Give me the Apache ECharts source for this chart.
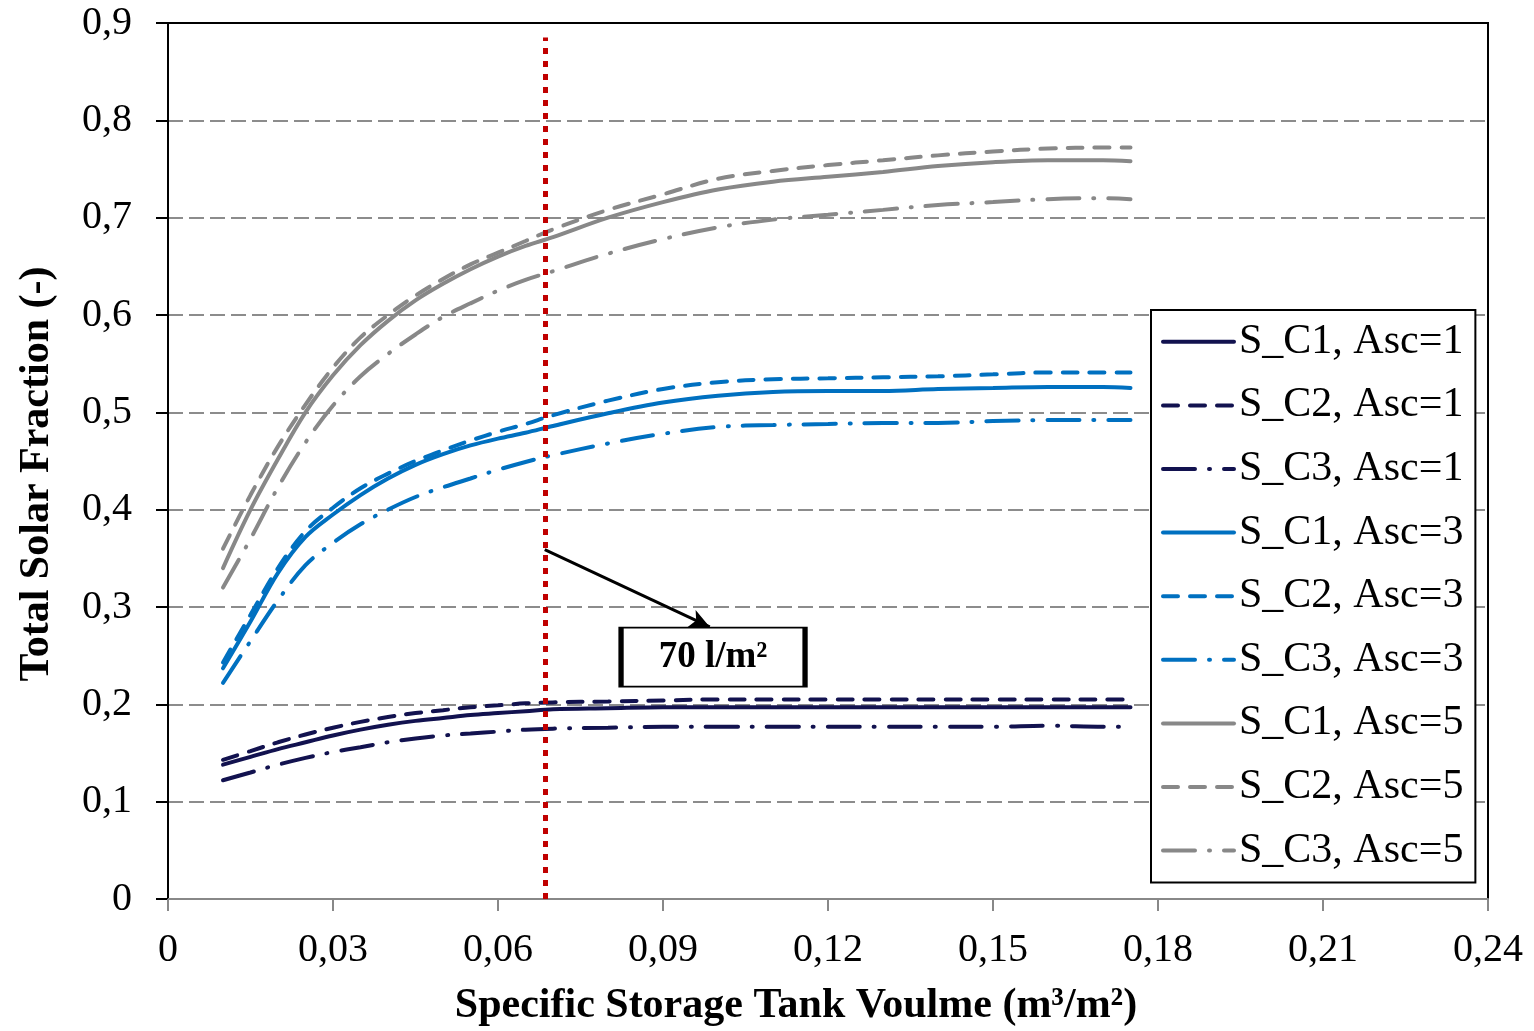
<!DOCTYPE html>
<html>
<head>
<meta charset="utf-8">
<title>Total Solar Fraction</title>
<script src="https://cdn.jsdelivr.net/npm/echarts@6/dist/echarts.min.js"></script>
<style>
    html, body { margin: 0; padding: 0; background: #fff; }
    #chart { width: 1534px; height: 1031px; }
</style>
</head>
<body>
<div id="chart"></div>
<script>
// tank volume (m3/m2)
const volumes = [0.01, 0.015, 0.02, 0.025, 0.03, 0.035, 0.04, 0.045, 0.05, 0.055, 0.06, 0.065, 0.07, 0.08, 0.09, 0.1, 0.11, 0.12, 0.13, 0.14, 0.15, 0.16, 0.17, 0.175];

// Asc = 1
const c1Asc1 = [0.138, 0.146, 0.154, 0.161, 0.168, 0.174, 0.179, 0.183, 0.186, 0.189, 0.191, 0.193, 0.195, 0.196, 0.197, 0.197, 0.197, 0.197, 0.197, 0.197, 0.197, 0.197, 0.197, 0.197];
const c2Asc1 = [0.143, 0.152, 0.161, 0.169, 0.176, 0.182, 0.187, 0.191, 0.194, 0.197, 0.199, 0.201, 0.202, 0.203, 0.204, 0.205, 0.205, 0.205, 0.205, 0.205, 0.205, 0.205, 0.205, 0.205];
const c3Asc1 = [0.122, 0.130, 0.138, 0.145, 0.151, 0.156, 0.161, 0.165, 0.168, 0.170, 0.172, 0.174, 0.175, 0.176, 0.177, 0.177, 0.177, 0.177, 0.177, 0.177, 0.177, 0.178, 0.177, 0.177];
// Asc = 3
const c1Asc3 = [0.237, 0.285, 0.335, 0.372, 0.395, 0.415, 0.432, 0.446, 0.457, 0.466, 0.473, 0.479, 0.486, 0.499, 0.510, 0.517, 0.521, 0.522, 0.522, 0.524, 0.525, 0.526, 0.526, 0.525];
const c2Asc3 = [0.243, 0.292, 0.340, 0.378, 0.402, 0.422, 0.437, 0.450, 0.461, 0.471, 0.480, 0.488, 0.497, 0.512, 0.524, 0.531, 0.534, 0.535, 0.536, 0.537, 0.539, 0.541, 0.541, 0.541];
const c3Asc3 = [0.222, 0.265, 0.307, 0.343, 0.366, 0.385, 0.400, 0.413, 0.423, 0.432, 0.441, 0.449, 0.456, 0.468, 0.478, 0.485, 0.487, 0.488, 0.489, 0.489, 0.491, 0.492, 0.492, 0.492];
// Asc = 5
const c1Asc5 = [0.340, 0.400, 0.452, 0.500, 0.538, 0.569, 0.594, 0.615, 0.632, 0.647, 0.660, 0.671, 0.680, 0.700, 0.716, 0.729, 0.737, 0.742, 0.747, 0.753, 0.757, 0.759, 0.759, 0.758];
const c2Asc5 = [0.360, 0.415, 0.465, 0.508, 0.546, 0.577, 0.600, 0.620, 0.637, 0.652, 0.664, 0.676, 0.688, 0.708, 0.724, 0.740, 0.748, 0.754, 0.759, 0.764, 0.768, 0.771, 0.772, 0.772];
const c3Asc5 = [0.320, 0.370, 0.423, 0.469, 0.507, 0.537, 0.560, 0.580, 0.598, 0.612, 0.625, 0.636, 0.645, 0.663, 0.678, 0.690, 0.698, 0.703, 0.708, 0.713, 0.716, 0.719, 0.720, 0.719];

// the 70 l/m2 marker
const markerVolume = 0.0685;
const markerLabel = '70 l/m²';

const serif = "'Liberation Serif', 'Times New Roman', serif";
const navy = '#12124f';
const blue = '#0070c0';
const gray = '#888888';

const dashStyle = [15, 12];
const dashDotStyle = [32, 14, 1, 14];

const pair = (vals) => volumes.map((v, i) => [v, vals[i]]);

// comma decimals like the original
const fmt = (digits) => (value) => {
    if (Math.abs(value) < 1e-9) return '0';
    return value.toFixed(digits).replace('.', ',');
};

const makeLine = (name, vals, color, dash) => ({
    name: name,
    type: 'line',
    data: pair(vals),
    smooth: 0.35,
    showSymbol: false,
    symbol: 'none',
    lineStyle: {
        color: color,
        width: 4,
        type: dash,
        cap: 'round'
    },
    itemStyle: { color: color },
    z: 3
});

const series = [
    makeLine('S_C1, Asc=1', c1Asc1, navy, 'solid'),
    makeLine('S_C2, Asc=1', c2Asc1, navy, dashStyle),
    makeLine('S_C3, Asc=1', c3Asc1, navy, dashDotStyle),
    makeLine('S_C1, Asc=3', c1Asc3, blue, 'solid'),
    makeLine('S_C2, Asc=3', c2Asc3, blue, dashStyle),
    makeLine('S_C3, Asc=3', c3Asc3, blue, dashDotStyle),
    makeLine('S_C1, Asc=5', c1Asc5, gray, 'solid'),
    makeLine('S_C2, Asc=5', c2Asc5, gray, dashStyle),
    makeLine('S_C3, Asc=5', c3Asc5, gray, dashDotStyle)
];

// red dotted marker + arrow + label box
series[0].markLine = {
    silent: true,
    animation: false,
    label: { show: false },
    data: [
        [
            { coord: [markerVolume, 0], symbol: 'none', lineStyle: { color: '#c00000', width: 5, type: [6, 7] } },
            { coord: [markerVolume, 0.885], symbol: 'none' }
        ],
        [
            { coord: [markerVolume, 0.359], symbol: 'none', lineStyle: { color: '#000', width: 3, type: 'solid' } },
            { coord: [0.0985, 0.2795], symbol: 'arrow', symbolSize: [14, 20] }
        ]
    ]
};
series[0].markPoint = {
    silent: true,
    animation: false,
    symbol: 'rect',
    symbolSize: [184, 59],
    itemStyle: { color: '#fff', borderColor: '#000', borderWidth: 3 },
    label: {
        show: true,
        position: 'inside',
        formatter: markerLabel,
        color: '#000',
        fontFamily: serif,
        fontWeight: 'bold',
        fontSize: 37
    },
    data: [{ coord: [0.0991, 0.2486] }]
};

const chart = echarts.init(document.getElementById('chart'), null, { renderer: 'canvas' });

chart.setOption({
    backgroundColor: '#fff',
    animation: false,
    textStyle: { fontFamily: serif },
    grid: {
        left: 168,
        right: 46,
        top: 23,
        bottom: 132,
        show: true,
        borderColor: '#000',
        borderWidth: 2,
        containLabel: false,
        outerBoundsMode: 'none'
    },
    legend: {
        orient: 'vertical',
        left: 1151,
        top: 310,
        padding: [0, 12, 0, 10],
        itemGap: 0,
        itemWidth: 71,
        itemHeight: 14,
        backgroundColor: '#fff',
        borderColor: '#000',
        borderWidth: 2,
        itemStyle: { color: 'rgba(0,0,0,0)', borderWidth: 0 },
        lineStyle: { width: 4 },
        textStyle: {
            fontFamily: serif,
            fontSize: 42,
            color: '#000',
            lineHeight: 63.6
        },
        data: series.map(s => s.name)
    },
    xAxis: [
        {
            type: 'value',
            min: 0,
            max: 0.24,
            interval: 0.03,
            name: 'Specific Storage Tank Voulme (m³/m²)',
            nameLocation: 'middle',
            nameGap: 86,
            nameTextStyle: {
                fontFamily: serif,
                fontWeight: 'bold',
                fontSize: 42,
                color: '#000',
                padding: [0, 64, 0, 0]
            },
            axisLine: { show: true, lineStyle: { color: '#888', width: 2 } },
            axisTick: { show: true, inside: false, length: 12, lineStyle: { color: '#888', width: 2 } },
            axisLabel: {
                margin: 31,
                fontFamily: serif,
                fontSize: 40,
                color: '#000',
                formatter: fmt(2)
            },
            splitLine: { show: false }
        },
        {
            // solid top frame drawn over the 0,9 grid line
            type: 'value',
            position: 'top',
            min: 0,
            max: 0.24,
            interval: 0.03,
            z: 10,
            axisLine: { show: true, lineStyle: { color: '#000', width: 2 } },
            axisTick: { show: false },
            axisLabel: { show: false },
            splitLine: { show: false }
        }
    ],
    yAxis: {
        type: 'value',
        min: 0,
        max: 0.9,
        interval: 0.1,
        name: 'Total Solar Fraction (-)',
        nameLocation: 'middle',
        nameGap: 110,
        nameTextStyle: {
            fontFamily: serif,
            fontWeight: 'bold',
            fontSize: 42,
            color: '#000',
            padding: [0, 26, 0, 0]
        },
        axisLine: { show: true, lineStyle: { color: '#000', width: 2 } },
        axisTick: { show: true, inside: false, length: 12, lineStyle: { color: '#000', width: 2 } },
        axisLabel: {
            margin: 36,
            fontFamily: serif,
            fontSize: 40,
            color: '#000',
            formatter: fmt(1)
        },
        splitLine: {
            show: true,
            lineStyle: { color: '#8c8c8c', width: 2, type: [15, 6] }
        }
    },
    series: series
});
</script>
</body>
</html>
